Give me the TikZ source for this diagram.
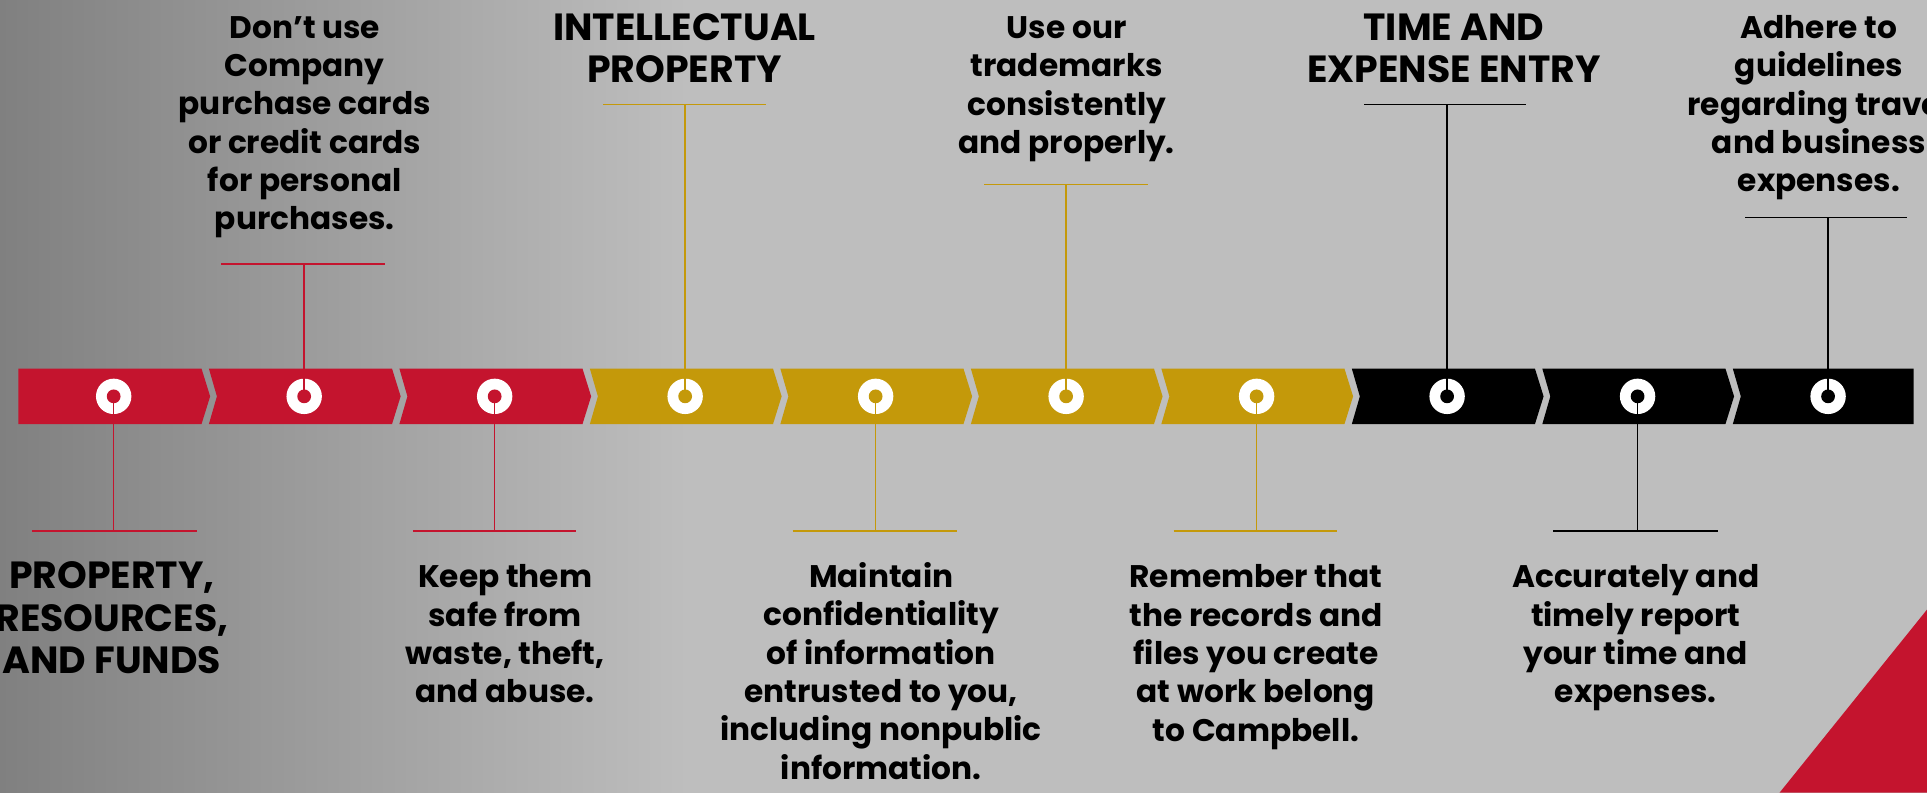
\documentclass[tikz,border=0pt]{standalone}
\usepackage{fontspec}
\setmainfont{Poppins}
\begin{document}
\begin{tikzpicture}[x=0.5pt,y=-0.5pt,
  ring/.style={circle,fill=white,inner sep=0pt,minimum size=14.4pt},
  conn/.style={line width=0.65pt},
  body/.style={align=center,inner sep=0pt,anchor=base,font=\bfseries\fontsize{12.7}{15.6}\selectfont},
  head/.style={align=center,inner sep=0pt,anchor=base,font=\bfseries\fontsize{15.4}{17.2}\selectfont}]
\definecolor{cred}{RGB}{196,20,46}
\definecolor{cgold}{RGB}{196,153,10}
\definecolor{cbg}{RGB}{190,190,190}
\useasboundingbox (0,0) rectangle (1568,645);
% background
\fill[cbg] (0,0) rectangle (1568,645);
\shade[left color={rgb,255:red,128;green,128;blue,128}, right color=cbg] (0,0) rectangle (560,645);
\fill[cred] (1448,645) -- (1568,496) -- (1568,645) -- cycle;
% segments
\foreach \i/\c in {0/cred,1/cred,2/cred,3/cgold,4/cgold,5/cgold,6/cgold,7/black,8/black,9/black}{
  \pgfmathsetmacro{\L}{15+155*\i}
  \ifnum\i=0
    \fill[\c] (\L,300) -- ({\L+149},300) -- ({\L+156},322.5) -- ({\L+149},345) -- (\L,345) -- cycle;
  \else\ifnum\i=9
    \fill[\c] (\L,300) -- (1557,300) -- (1557,345) -- (\L,345) -- ({\L+6.5},322.5) -- cycle;
  \else
    \fill[\c] (\L,300) -- ({\L+149},300) -- ({\L+156},322.5) -- ({\L+149},345) -- (\L,345) -- ({\L+6.5},322.5) -- cycle;
  \fi\fi
}
% rings
\node[ring] (c0) at (92.5,322.5) {};
\node[ring] (c1) at (247.5,322.5) {};
\node[ring] (c2) at (402.5,322.5) {};
\node[ring] (c3) at (557.5,322.5) {};
\node[ring] (c4) at (712.5,322.5) {};
\node[ring] (c5) at (867.5,322.5) {};
\node[ring] (c6) at (1022.5,322.5) {};
\node[ring] (c7) at (1177.5,322.5) {};
\node[ring] (c8) at (1332.5,322.5) {};
\node[ring] (c9) at (1487.5,322.5) {};
\fill[cred] (c0) circle (5.6) (c1) circle (5.6) (c2) circle (5.6);
\fill[cgold] (c3) circle (5.6) (c4) circle (5.6) (c5) circle (5.6) (c6) circle (5.6);
\fill[black] (c7) circle (5.6) (c8) circle (5.6) (c9) circle (5.6);
% bar coordinates
\coordinate (b0) at (92.5,432);   \coordinate (b0l) at (26,432);   \coordinate (b0r) at (160,432);
\coordinate (b1) at (247.5,215);  \coordinate (b1l) at (180,215);  \coordinate (b1r) at (313,215);
\coordinate (b2) at (402.5,432);  \coordinate (b2l) at (336,432);  \coordinate (b2r) at (469,432);
\coordinate (b3) at (557.5,85);   \coordinate (b3l) at (491,85);   \coordinate (b3r) at (623,85);
\coordinate (b4) at (712.5,432);  \coordinate (b4l) at (645,432);  \coordinate (b4r) at (779,432);
\coordinate (b5) at (867.5,150);  \coordinate (b5l) at (801,150);  \coordinate (b5r) at (934,150);
\coordinate (b6) at (1022.5,432); \coordinate (b6l) at (955,432);  \coordinate (b6r) at (1088,432);
\coordinate (b7) at (1177.5,85);  \coordinate (b7l) at (1110,85);  \coordinate (b7r) at (1242,85);
\coordinate (b8) at (1332.5,432); \coordinate (b8l) at (1264,432); \coordinate (b8r) at (1398,432);
\coordinate (b9) at (1487.5,177); \coordinate (b9l) at (1420,177); \coordinate (b9r) at (1552,177);
% connectors
\draw[conn,cred] (c0.center) -- (b0) (b0l) -- (b0r);
\draw[conn,cred] (c1.center) -- (b1) (b1l) -- (b1r);
\draw[conn,cred] (c2.center) -- (b2) (b2l) -- (b2r);
\draw[conn,cgold] (c3.center) -- (b3) (b3l) -- (b3r);
\draw[conn,cgold] (c4.center) -- (b4) (b4l) -- (b4r);
\draw[conn,cgold] (c5.center) -- (b5) (b5l) -- (b5r);
\draw[conn,cgold] (c6.center) -- (b6) (b6l) -- (b6r);
\draw[conn,black] (c7.center) -- (b7) (b7l) -- (b7r);
\draw[conn,black] (c8.center) -- (b8) (b8l) -- (b8r);
\draw[conn,black] (c9.center) -- (b9) (b9l) -- (b9r);
% texts (anchor = baseline of last line)
\node[head] (t0) at (91,548) {PROPERTY,\\RESOURCES,\\AND FUNDS};
\node[body] (t1) at (248,187) {Don’t use\\Company\\purchase cards\\or credit cards\\for personal\\purchases.};
\node[body] (t2) at (411,572) {Keep them\\safe from\\waste, theft,\\and abuse.};
\node[head] (t3) at (557,67) {INTELLECTUAL\\PROPERTY};
\node[body] (t4) at (717,634) {Maintain\\confidentiality\\of information\\entrusted to you,\\including nonpublic\\information.};
\node[body] (t5) at (868,125) {Use our\\trademarks\\consistently\\and properly.};
\node[body] (t6) at (1022,603) {Remember that\\the records and\\files you create\\at work belong\\to Campbell.};
\node[head] (t7) at (1183,67) {TIME AND\\EXPENSE ENTRY};
\node[body] (t8) at (1331,572) {Accurately and\\timely report\\your time and\\expenses.};
\node[body] (t9) at (1480,156) {Adhere to\\guidelines\\regarding travel\\and business\\expenses.};
\end{tikzpicture}
\end{document}
